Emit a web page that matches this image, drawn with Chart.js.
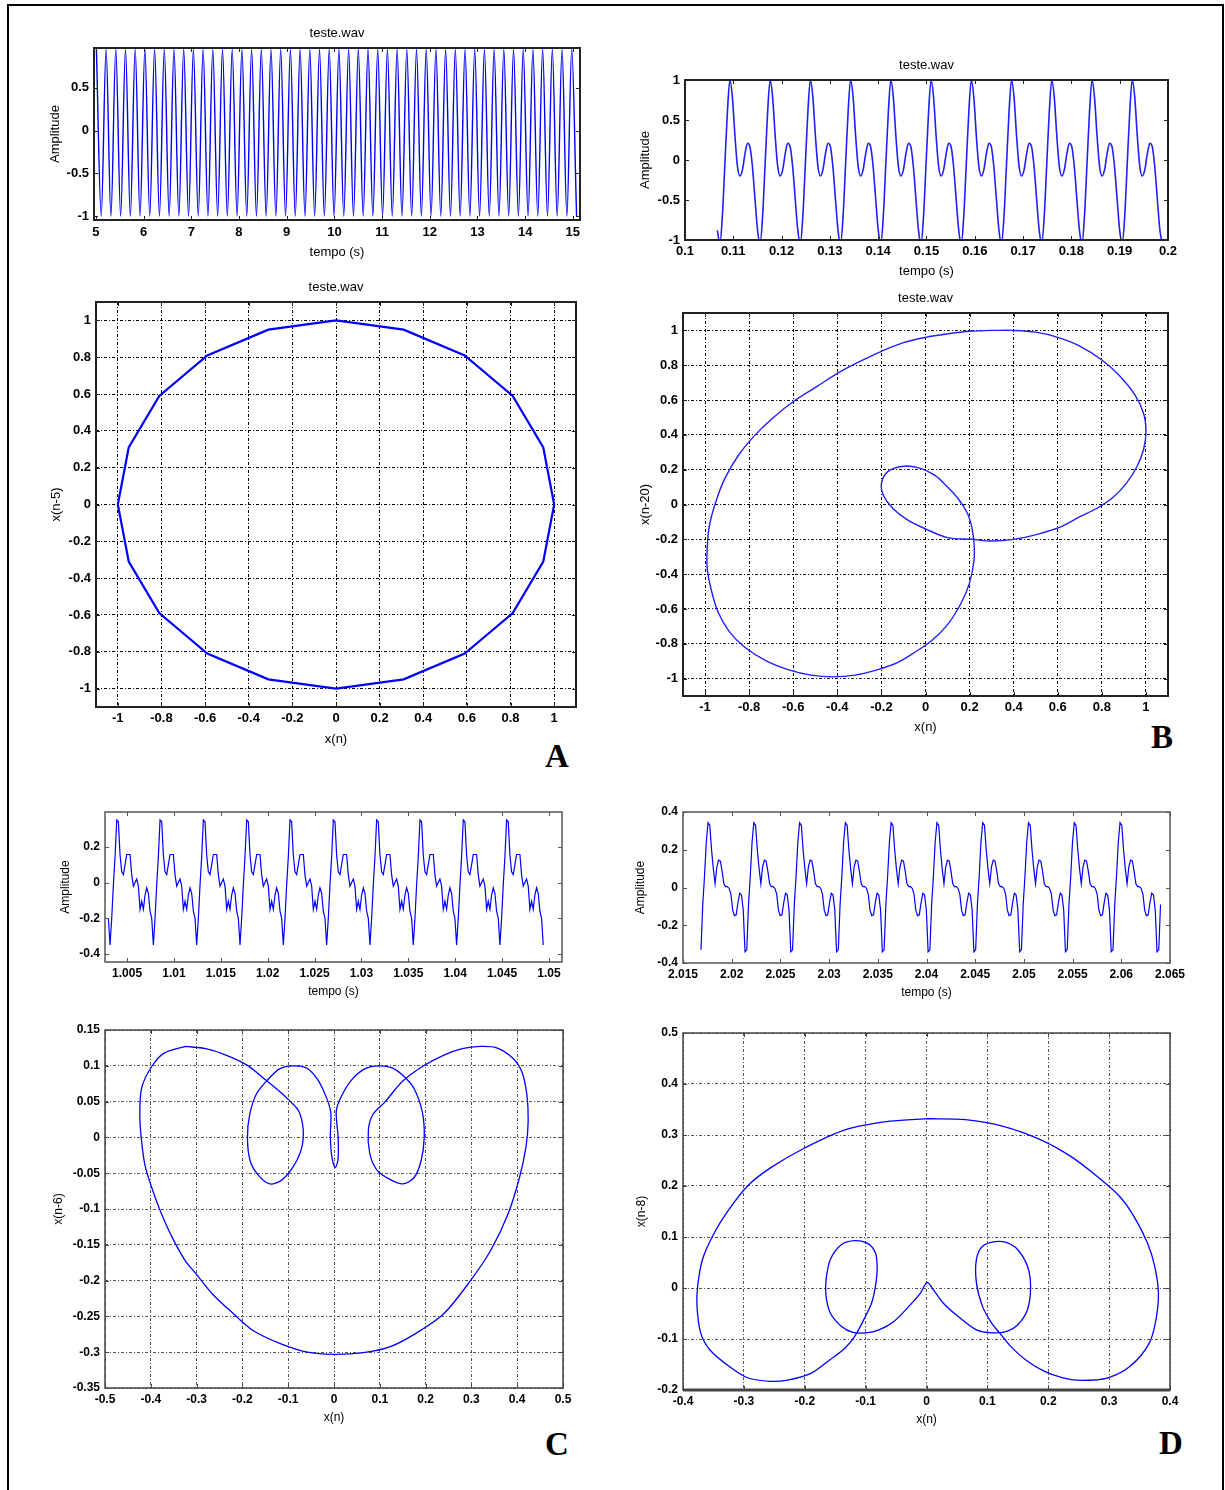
<!DOCTYPE html>
<html>
<head>
<meta charset="utf-8">
<title>teste.wav</title>
<script src="https://cdn.jsdelivr.net/npm/chart.js@4.4.1/dist/chart.umd.min.js"></script>
<style>
  html, body { margin: 0; padding: 0; background: #fff; }
  body { width: 1225px; height: 1490px; position: relative; overflow: hidden; }
  #frame { position: absolute; left: 7px; top: 4px; width: 1213px; height: 1500px; border: 2px solid #000; border-bottom: none; }
  canvas { position: absolute; }
  .tag { position: absolute; font: bold 33px 'Liberation Serif', 'Times New Roman', serif; line-height: 33px; color: #000; }
</style>
</head>
<body>
<div id="frame"></div>
<div class="tag" style="left:545px;top:740px">A</div>
<div class="tag" style="left:1151px;top:721px">B</div>
<div class="tag" style="left:545px;top:1428px">C</div>
<div class="tag" style="left:1159px;top:1427px">D</div>
<script>
'use strict'

// ---------- tick values ----------
const aTopXTicks = [5, 6, 7, 8, 9, 10, 11, 12, 13, 14, 15];
const aTopYTicks = [-1, -0.5, 0, 0.5];
const bTopXTicks = [0.1, 0.11, 0.12, 0.13, 0.14, 0.15, 0.16, 0.17, 0.18, 0.19, 0.2];
const bTopYTicks = [-1, -0.5, 0, 0.5, 1];
const unitTicks = [-1, -0.8, -0.6, -0.4, -0.2, 0, 0.2, 0.4, 0.6, 0.8, 1];
const cTopXTicks = [1.005, 1.01, 1.015, 1.02, 1.025, 1.03, 1.035, 1.04, 1.045, 1.05];
const cTopYTicks = [-0.4, -0.2, 0, 0.2];
const dTopXTicks = [2.015, 2.02, 2.025, 2.03, 2.035, 2.04, 2.045, 2.05, 2.055, 2.06, 2.065];
const dTopYTicks = [-0.4, -0.2, 0, 0.2, 0.4];
const cPhaseXTicks = [-0.5, -0.4, -0.3, -0.2, -0.1, 0, 0.1, 0.2, 0.3, 0.4, 0.5];
const cPhaseYTicks = [-0.35, -0.3, -0.25, -0.2, -0.15, -0.1, -0.05, 0, 0.05, 0.1, 0.15];
const dPhaseXTicks = [-0.4, -0.3, -0.2, -0.1, 0, 0.1, 0.2, 0.3, 0.4];
const dPhaseYTicks = [-0.2, -0.1, 0, 0.1, 0.2, 0.3, 0.4, 0.5];

// ---------- time signals (one period) ----------
// A: pure tone, peak / trough
const aTopCycle = [0.95, -1.0];
const aTopPeriod = 0.2034, aTopFirstPeak = 5.01, aTopStart = 0, aTopCount = 100;

// B: tone + harmonic, 16 samples per period starting at the big peak
const bTopCycle = [1.0, 0.78, 0.30, -0.08, -0.20, -0.12, 0.08, 0.21, 0.16, -0.10, -0.50, -0.88, -1.05, -0.70, -0.05, 0.60];
const bTopPeriod = 0.00833, bTopFirstPeak = 0.1093, bTopStart = 11, bTopCount = 178;

// C: voice, 26 samples per period
const cTopCycle = [0.35, 0.34, 0.154, 0.06, 0.045, 0.10, 0.157, 0.157, 0.157, 0.043, -0.02, 0.0, 0.02, -0.02, -0.15, -0.105, -0.15, -0.07, -0.03, -0.06, -0.16, -0.2, -0.35, -0.2, -0.013, 0.144];
const cTopPeriod = 0.00462, cTopFirstPeak = 1.0039, cTopStart = 21, cTopCount = 262;

// D: voice, 26 samples per period
const dTopCycle = [0.343, 0.33, 0.20, 0.10, 0.02, 0.11, 0.145, 0.14, 0.085, 0.02, 0.005, 0.005, -0.005, -0.035, -0.12, -0.149, -0.145, -0.08, -0.03, -0.04, -0.12, -0.34, -0.33, -0.09, 0.06, 0.24];
const dTopPeriod = 0.0047, dTopFirstPeak = 2.01757, dTopStart = 22, dTopCount = 262;

// ---------- phase plots x(n) vs x(n-k) ----------
const aPhaseX = [0, 0.31, 0.59, 0.81, 0.95, 1, 0.95, 0.81, 0.59, 0.31, 0, -0.31, -0.59, -0.81, -0.95, -1, -0.95, -0.81, -0.59, -0.31, 0];
const aPhaseY = [1, 0.95, 0.81, 0.59, 0.31, 0, -0.31, -0.59, -0.81, -0.95, -1, -0.95, -0.81, -0.59, -0.31, 0, 0.31, 0.59, 0.81, 0.95, 1];

const bPhaseX = [0.30, 0.40, 0.50, 0.60, 0.70, 0.80, 0.88, 0.95, 0.99, 1.00, 0.99, 0.96, 0.91, 0.85, 0.78, 0.70, 0.61, 0.51, 0.40, 0.30,
  0.21, 0.10, 0.00, -0.08, -0.15, -0.19, -0.20, -0.17, -0.10, -0.03, 0.04, 0.10, 0.15, 0.19, 0.21, 0.22, 0.22, 0.20, 0.16, 0.10,
  0.03, -0.05, -0.13, -0.22, -0.32, -0.42, -0.52, -0.62, -0.72, -0.82, -0.89, -0.94, -0.97, -0.99, -0.99, -0.98, -0.95, -0.91, -0.85, -0.78,
  -0.69, -0.59, -0.49, -0.39, -0.30, -0.20, -0.10, 0.00, 0.10, 0.20, 0.30];
const bPhaseY = [1.00, 1.00, 0.99, 0.96, 0.91, 0.83, 0.74, 0.63, 0.52, 0.42, 0.32, 0.22, 0.12, 0.04, -0.02, -0.07, -0.13, -0.17, -0.20, -0.21,
  -0.20, -0.19, -0.14, -0.09, -0.02, 0.05, 0.12, 0.19, 0.22, 0.21, 0.17, 0.10, 0.03, -0.05, -0.13, -0.22, -0.32, -0.45, -0.57, -0.69,
  -0.78, -0.85, -0.91, -0.95, -0.98, -0.99, -0.98, -0.95, -0.90, -0.82, -0.73, -0.62, -0.50, -0.37, -0.25, -0.12, 0.02, 0.15, 0.28, 0.39,
  0.50, 0.60, 0.68, 0.76, 0.82, 0.88, 0.93, 0.96, 0.98, 0.995, 1.00];

const cPhaseX = [-0.324, -0.28, -0.24, -0.19, -0.147, -0.115, -0.095, -0.078, -0.069, -0.067, -0.073, -0.09, -0.115, -0.14, -0.165,
  -0.183, -0.189, -0.184, -0.17, -0.147, -0.118, -0.088, -0.06, -0.037, -0.018, -0.007, -0.008, -0.004, 0.003, 0.009,
  0.009, 0.005, 0.016, 0.038, 0.068, 0.098, 0.127, 0.153, 0.175, 0.193, 0.197, 0.19, 0.175, 0.15, 0.12,
  0.093, 0.078, 0.075, 0.085, 0.112, 0.149, 0.193, 0.24, 0.28, 0.32, 0.355, 0.39, 0.41, 0.421, 0.424,
  0.419, 0.405, 0.38, 0.342, 0.298, 0.24, 0.178, 0.12, 0.06, 0.0, -0.058, -0.117, -0.176, -0.22, -0.265,
  -0.302, -0.325, -0.353, -0.379, -0.398, -0.413, -0.421, -0.424, -0.42, -0.398, -0.37, -0.324];
const cPhaseY = [0.127, 0.124, 0.116, 0.101, 0.079, 0.062, 0.05, 0.038, 0.02, 0.0, -0.02, -0.042, -0.06, -0.065, -0.053,
  -0.033, 0.0, 0.032, 0.06, 0.079, 0.096, 0.1, 0.097, 0.082, 0.058, 0.035, 0.0, -0.03, -0.042, -0.03,
  0.0, 0.037, 0.057, 0.08, 0.096, 0.1, 0.097, 0.085, 0.068, 0.035, 0.0, -0.033, -0.056, -0.065, -0.058,
  -0.045, -0.022, 0.01, 0.032, 0.05, 0.078, 0.099, 0.115, 0.124, 0.127, 0.125, 0.111, 0.092, 0.06, 0.023,
  -0.014, -0.056, -0.107, -0.158, -0.2, -0.246, -0.274, -0.293, -0.301, -0.303, -0.3, -0.288, -0.27, -0.246, -0.219,
  -0.19, -0.172, -0.14, -0.103, -0.07, -0.038, 0.0, 0.032, 0.069, 0.099, 0.118, 0.127];

const dPhaseX = [0.002, -0.06, -0.134, -0.201, -0.257, -0.294, -0.325, -0.35, -0.368, -0.376, -0.377, -0.371, -0.356, -0.325, -0.294,
  -0.257, -0.226, -0.189, -0.158, -0.134, -0.118, -0.103, -0.09, -0.083, -0.081, -0.084, -0.096, -0.118, -0.14, -0.158,
  -0.165, -0.165, -0.158, -0.14, -0.121, -0.1, -0.078, -0.053, -0.029, -0.01, 0.001, 0.011, 0.027, 0.052, 0.082,
  0.107, 0.132, 0.15, 0.166, 0.171, 0.166, 0.15, 0.132, 0.113, 0.092, 0.082, 0.082, 0.092, 0.107, 0.12,
  0.138, 0.162, 0.193, 0.224, 0.255, 0.298, 0.335, 0.366, 0.377, 0.381, 0.375, 0.363, 0.341, 0.317, 0.28,
  0.237, 0.187, 0.126, 0.064, 0.002];
const dPhaseY = [0.332, 0.327, 0.31, 0.274, 0.235, 0.2, 0.153, 0.105, 0.056, 0.003, -0.036, -0.088, -0.121, -0.153, -0.176,
  -0.183, -0.18, -0.167, -0.14, -0.118, -0.095, -0.062, -0.029, 0.01, 0.042, 0.069, 0.087, 0.093, 0.085, 0.056,
  0.016, -0.016, -0.049, -0.075, -0.087, -0.088, -0.082, -0.065, -0.036, -0.01, 0.011, -0.003, -0.029, -0.056, -0.082,
  -0.088, -0.085, -0.072, -0.042, 0.003, 0.042, 0.075, 0.089, 0.091, 0.082, 0.056, 0.01, -0.036, -0.069, -0.088,
  -0.114, -0.14, -0.163, -0.176, -0.181, -0.176, -0.153, -0.108, -0.062, -0.01, 0.042, 0.088, 0.14, 0.18, 0.219,
  0.258, 0.291, 0.317, 0.33, 0.332];

const FONT = "'Liberation Sans', Arial, Helvetica, sans-serif";

function toPoints(xs, ys) {
  return xs.map((x, i) => ({x: x, y: ys[i]}));
}

// sampled signal: one period of values repeated at its sampling step
function sampled(cycle, period, firstPeak, startIdx, count) {
  const n = cycle.length;
  const dt = period / n;
  const offset = (n - startIdx) % n;
  let pts = [];
  for (let i = 0; i < count; i++) {
    pts.push({x: firstPeak + (i - offset) * dt, y: cycle[(startIdx + i) % n]});
  }
  return pts;
}

// axes box + inward tick marks (MATLAB look)
const boxPlugin = {
  id: 'box',
  afterDraw(chart, args, opts) {
    const {ctx, chartArea: a} = chart;
    const xs = chart.scales.x, ys = chart.scales.y;
    ctx.save();
    ctx.setLineDash([]);
    ctx.strokeStyle = opts.color;
    ctx.lineWidth = 1;
    ctx.beginPath();
    xs.ticks.forEach(t => {
      const p = Math.round(xs.getPixelForValue(t.value)) + 0.5;
      ctx.moveTo(p, a.bottom); ctx.lineTo(p, a.bottom - 4);
      ctx.moveTo(p, a.top); ctx.lineTo(p, a.top + 4);
    });
    ys.ticks.forEach(t => {
      const p = Math.round(ys.getPixelForValue(t.value)) + 0.5;
      ctx.moveTo(a.left, p); ctx.lineTo(a.left + 4, p);
      ctx.moveTo(a.right, p); ctx.lineTo(a.right - 4, p);
    });
    ctx.stroke();
    ctx.lineWidth = opts.width;
    ctx.strokeRect(a.left, a.top, a.right - a.left, a.bottom - a.top);
    if (opts.bottomWidth) {
      ctx.lineWidth = opts.bottomWidth;
      ctx.beginPath();
      ctx.moveTo(a.left, a.bottom); ctx.lineTo(a.right, a.bottom);
      ctx.stroke();
    }
    ctx.restore();
  }
};
Chart.register(boxPlugin);

function makeScale(ax, horizontal) {
  return {
    type: 'linear',
    min: ax.min,
    max: ax.max,
    afterBuildTicks: (scale) => { scale.ticks = ax.ticks.map(v => ({value: v})); },
    afterFit: (scale) => {
      if (horizontal) { scale.height = ax.size; } else { scale.width = ax.size; }
      scale.paddingLeft = 0; scale.paddingRight = 0; scale.paddingTop = 0; scale.paddingBottom = 0;
    },
    ticks: {
      autoSkip: false, maxRotation: 0, minRotation: 0, padding: ax.pad, color: '#000',
      font: {family: FONT, size: ax.tickSize, weight: 'bold'},
      callback: (v) => String(v)
    },
    grid: {display: !!ax.gridColor, drawTicks: false, color: ax.gridColor || '#000', lineWidth: 1},
    border: {display: false, dash: [3, 2, 1, 2]},
    title: {display: true, text: ax.title, color: '#000', font: {family: FONT, size: ax.titleSize}, padding: {top: 1, bottom: 1}}
  };
}

function drawPanel(p) {
  const titleH = p.title ? 13 * 1.2 + 6.4 : 0;
  const padTop = p.title ? 2 : 10;
  const padRight = 18;
  const w = p.box.wy + p.box.w + padRight;
  const h = padTop + titleH + p.box.h + p.box.hx;
  const cv = document.createElement('canvas');
  cv.width = w; cv.height = h;
  cv.style.width = w + 'px'; cv.style.height = h + 'px';
  cv.style.left = (p.box.left - p.box.wy) + 'px';
  cv.style.top = (p.box.top - padTop - titleH) + 'px';
  document.body.appendChild(cv);

  new Chart(cv, {
    type: 'scatter',
    data: {
      datasets: [{
        data: p.points,
        showLine: true,
        borderColor: p.color,
        borderWidth: p.lineWidth,
        pointRadius: 0,
        fill: false,
        tension: p.tension || 0,
        cubicInterpolationMode: p.monotone ? 'monotone' : 'default'
      }]
    },
    options: {
      responsive: false,
      animation: false,
      devicePixelRatio: 1,
      events: [],
      layout: {padding: {top: padTop, right: padRight, left: 0, bottom: 0}},
      scales: {
        x: makeScale(Object.assign({size: p.box.hx, pad: p.xPad, tickSize: p.tickSize}, p.x), true),
        y: makeScale(Object.assign({size: p.box.wy, pad: 5, tickSize: p.tickSize}, p.y), false)
      },
      plugins: {
        legend: {display: false},
        tooltip: {enabled: false},
        title: {
          display: !!p.title, text: p.title || '', fullSize: false, color: '#000',
          font: {family: FONT, size: 13, weight: 'normal', lineHeight: 1.2},
          padding: {top: 0, bottom: 6.4}
        },
        box: {color: p.boxColor, width: p.boxWidth, bottomWidth: p.bottomWidth || 0}
      }
    }
  });
}

// ---------- layout (page pixels of each axes box) ----------
const layout = {
  aTop:   {left: 94,  top: 48,   w: 486, h: 172, wy: 47, hx: 41},
  bTop:   {left: 685, top: 80,   w: 483, h: 160, wy: 48, hx: 40},
  aPhase: {left: 96,  top: 302,  w: 480, h: 405, wy: 48, hx: 41},
  bPhase: {left: 683, top: 313,  w: 485, h: 383, wy: 46, hx: 40},
  cTop:   {left: 105, top: 812,  w: 457, h: 150, wy: 48, hx: 38},
  dTop:   {left: 683, top: 812,  w: 487, h: 151, wy: 51, hx: 38},
  cPhase: {left: 105, top: 1030, w: 458, h: 358, wy: 55, hx: 38},
  dPhase: {left: 683, top: 1033, w: 487, h: 357, wy: 50, hx: 38}
};
const darkGrid = '#000';
const greyGrid = '#555';

drawPanel({
  box: layout.aTop, title: 'teste.wav', xPad: 5, tickSize: 13,
  points: sampled(aTopCycle, aTopPeriod, aTopFirstPeak, aTopStart, aTopCount),
  color: '#0000ff', lineWidth: 1.4, monotone: true,
  x: {min: 4.96, max: 15.15, ticks: aTopXTicks, title: 'tempo (s)', titleSize: 13},
  y: {min: -1.045, max: 0.965, ticks: aTopYTicks, title: 'Amplitude', titleSize: 13},
  boxColor: '#222', boxWidth: 2
});

drawPanel({
  box: layout.bTop, title: 'teste.wav', xPad: 4, tickSize: 13,
  points: sampled(bTopCycle, bTopPeriod, bTopFirstPeak, bTopStart, bTopCount),
  color: '#1f1fff', lineWidth: 1.6, monotone: true,
  x: {min: 0.1, max: 0.2, ticks: bTopXTicks, title: 'tempo (s)', titleSize: 13},
  y: {min: -1, max: 1, ticks: bTopYTicks, title: 'Amplitude', titleSize: 13},
  boxColor: '#222', boxWidth: 2
});

drawPanel({
  box: layout.aPhase, title: 'teste.wav', xPad: 4, tickSize: 13,
  points: toPoints(aPhaseX, aPhaseY),
  color: '#0000ff', lineWidth: 2.2,
  x: {min: -1.1, max: 1.1, ticks: unitTicks, title: 'x(n)', titleSize: 13, gridColor: darkGrid},
  y: {min: -1.1, max: 1.1, ticks: unitTicks, title: 'x(n-5)', titleSize: 13, gridColor: darkGrid},
  boxColor: '#222', boxWidth: 2
});

drawPanel({
  box: layout.bPhase, title: 'teste.wav', xPad: 4, tickSize: 13,
  points: toPoints(bPhaseX, bPhaseY),
  color: '#1f1fff', lineWidth: 1.4, tension: 0.35,
  x: {min: -1.1, max: 1.1, ticks: unitTicks, title: 'x(n)', titleSize: 13, gridColor: darkGrid},
  y: {min: -1.1, max: 1.1, ticks: unitTicks, title: 'x(n-20)', titleSize: 13, gridColor: darkGrid},
  boxColor: '#222', boxWidth: 2
});

drawPanel({
  box: layout.cTop, xPad: 4, tickSize: 12,
  points: sampled(cTopCycle, cTopPeriod, cTopFirstPeak, cTopStart, cTopCount),
  color: '#0000ff', lineWidth: 1.2,
  x: {min: 1.00265, max: 1.05139, ticks: cTopXTicks, title: 'tempo (s)', titleSize: 12},
  y: {min: -0.445, max: 0.395, ticks: cTopYTicks, title: 'Amplitude', titleSize: 12},
  boxColor: '#555', boxWidth: 1.5
});

drawPanel({
  box: layout.dTop, xPad: 4, tickSize: 12,
  points: sampled(dTopCycle, dTopPeriod, dTopFirstPeak, dTopStart, dTopCount),
  color: '#0000ff', lineWidth: 1.2,
  x: {min: 2.015, max: 2.065, ticks: dTopXTicks, title: 'tempo (s)', titleSize: 12},
  y: {min: -0.4, max: 0.4, ticks: dTopYTicks, title: 'Amplitude', titleSize: 12},
  boxColor: '#555', boxWidth: 1.5
});

drawPanel({
  box: layout.cPhase, xPad: 4, tickSize: 12,
  points: toPoints(cPhaseX, cPhaseY),
  color: '#0000ff', lineWidth: 1.3, tension: 0.3,
  x: {min: -0.5, max: 0.5, ticks: cPhaseXTicks, title: 'x(n)', titleSize: 12, gridColor: greyGrid},
  y: {min: -0.35, max: 0.15, ticks: cPhaseYTicks, title: 'x(n-6)', titleSize: 12, gridColor: greyGrid},
  boxColor: '#444', boxWidth: 1.5
});

drawPanel({
  box: layout.dPhase, xPad: 4, tickSize: 12,
  points: toPoints(dPhaseX, dPhaseY),
  color: '#0000ff', lineWidth: 1.3, tension: 0.3,
  x: {min: -0.4, max: 0.4, ticks: dPhaseXTicks, title: 'x(n)', titleSize: 12, gridColor: greyGrid},
  y: {min: -0.2, max: 0.5, ticks: dPhaseYTicks, title: 'x(n-8)', titleSize: 12, gridColor: greyGrid},
  boxColor: '#444', boxWidth: 1.5, bottomWidth: 3
});
</script>
</body>
</html>
